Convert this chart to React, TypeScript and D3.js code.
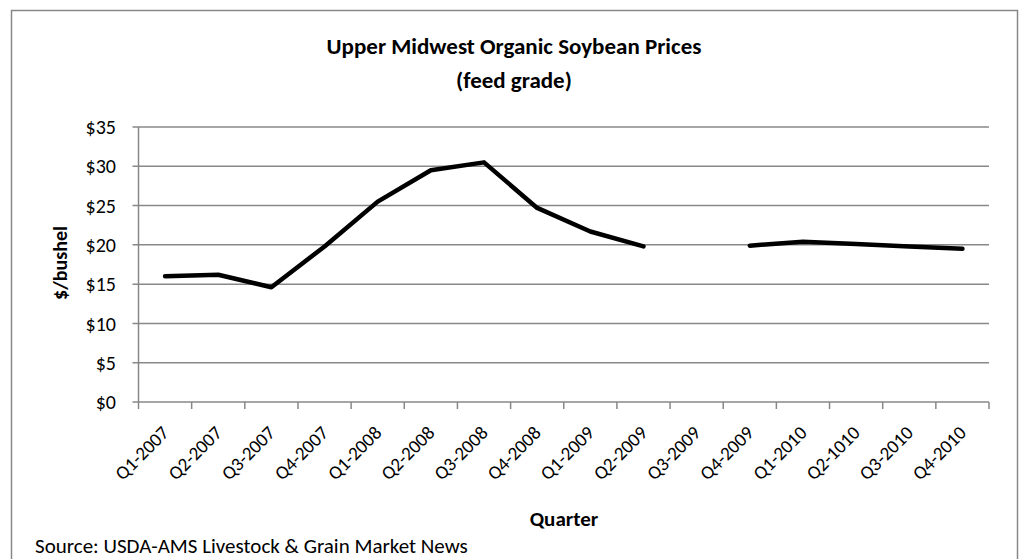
import React from "react";
import * as d3 from "d3";

const quarters = [
  "Q1-2007", "Q2-2007", "Q3-2007", "Q4-2007",
  "Q1-2008", "Q2-2008", "Q3-2008", "Q4-2008",
  "Q1-2009", "Q2-2009", "Q3-2009", "Q4-2009",
  "Q1-2010", "Q2-1010", "Q3-2010", "Q4-2010",
];
const prices: (number | null)[] = [
  16.0, 16.2, 14.6, 19.8,
  25.5, 29.5, 30.5, 24.7,
  21.7, 19.8, null, 19.9,
  20.4, 20.1, 19.8, 19.5,
];
const yTicks = [0, 5, 10, 15, 20, 25, 30, 35];

const W = 1023;
const H = 559;
const FONT = "Carlito, Calibri, Lato, 'Open Sans', sans-serif";

export default function App() {
  const left = 138.5, right = 989, top = 127, bottom = 402;
  const x = d3.scaleBand<string>().domain(quarters).range([left, right]);
  const y = d3.scaleLinear().domain([0, 35]).range([bottom, top]);
  const line = d3
    .line<number | null>()
    .defined((d) => d !== null)
    .x((_, i) => (x(quarters[i]) as number) + x.bandwidth() / 2)
    .y((d) => y(d as number));
  const grid = "#888888";
  const boundaries = quarters.map((q) => x(q) as number).concat([right]);

  return (
    <svg
      width={W}
      height={H}
      style={{ position: "absolute", left: 0, top: 0, background: "#fff" }}
      fontFamily={FONT}
    >
      <rect x={11.5} y={10.5} width={1006} height={560} fill="#fff" stroke="#888" strokeWidth={1.5} />
      <text x={514} y={54} textAnchor="middle" fontWeight="bold" fontSize={23}>
        Upper Midwest Organic Soybean Prices
      </text>
      <text x={514} y={88} textAnchor="middle" fontWeight="bold" fontSize={23}>
        (feed grade)
      </text>
      {yTicks.map((t) => (
        <g key={t}>
          <line x1={left - 6} x2={right} y1={y(t)} y2={y(t)} stroke={grid} strokeWidth={1.5} />
          <text x={116} y={y(t)} dy="0.36em" textAnchor="end" fontSize={20}>
            {"$" + t}
          </text>
        </g>
      ))}
      <line x1={left} x2={left} y1={top} y2={bottom} stroke={grid} strokeWidth={1.5} />
      {boundaries.map((b, i) => (
        <line key={i} x1={b} x2={b} y1={bottom} y2={bottom + 7} stroke={grid} strokeWidth={1.5} />
      ))}
      {quarters.map((q) => {
        const cx = (x(q) as number) + x.bandwidth() / 2;
        return (
          <text
            key={q}
            transform={`translate(${cx + 5},${bottom + 32}) rotate(-45)`}
            textAnchor="end"
            fontSize={19}
          >
            {q}
          </text>
        );
      })}
      <path d={line(prices) || ""} fill="none" stroke="#000" strokeWidth={4.5} strokeLinejoin="round" strokeLinecap="round" />
      <text transform={`translate(67,263) rotate(-90)`} textAnchor="middle" fontWeight="bold" fontSize={20}>
        $/bushel
      </text>
      <text x={564} y={526} textAnchor="middle" fontWeight="bold" fontSize={21}>
        Quarter
      </text>
      <text x={35} y={553} fontSize={21}>
        Source: USDA-AMS Livestock &amp; Grain Market News
      </text>
    </svg>
  );
}
